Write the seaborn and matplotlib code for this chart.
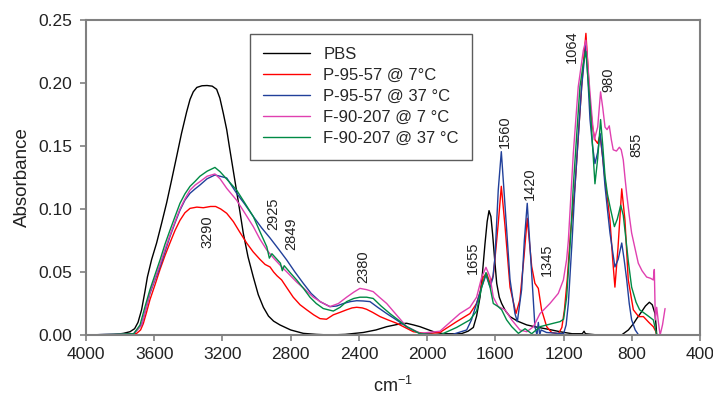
import matplotlib
matplotlib.use("Agg")
import matplotlib.pyplot as plt
import numpy as np
import pandas as pd
import seaborn as sns

# ---- values (wavenumber, absorbance) ----
pbs_wn = [4000, 3850, 3781, 3742, 3715, 3695, 3674, 3655, 3640, 3615, 3586, 3556, 3527, 3498,
          3468, 3440, 3410, 3390, 3371, 3350, 3320, 3290, 3260, 3234, 3215, 3195, 3175, 3160,
          3136, 3100, 3078, 3050, 3019, 2990, 2960, 2930, 2900, 2863, 2800, 2726, 2650, 2570,
          2480, 2374, 2300, 2237, 2160, 2120, 2080, 2042, 2000, 1950, 1900, 1800, 1760, 1729,
          1710, 1690, 1675, 1661, 1648, 1637, 1626, 1616, 1604, 1592, 1577, 1563, 1540, 1514,
          1470, 1416, 1370, 1319, 1270, 1221, 1150, 1090, 1080, 1072, 1000, 900, 860, 820,
          790, 771, 745, 720, 697, 680, 664, 658, 654]
pbs_abs = [0, 0, 0.0013, 0.0026, 0.005, 0.010, 0.020, 0.034, 0.046, 0.060, 0.073, 0.089, 0.105,
           0.123, 0.142, 0.160, 0.177, 0.187, 0.193, 0.1965, 0.1978, 0.198, 0.1975, 0.195,
           0.188, 0.176, 0.163, 0.150, 0.130, 0.100, 0.081, 0.062, 0.046, 0.032, 0.022, 0.015,
           0.011, 0.008, 0.004, 0.0013, 0.0005, 0, 0.0005, 0.002, 0.004, 0.0066, 0.0088,
           0.0093, 0.008, 0.0066, 0.0045, 0.002, 0.001, 0.001, 0.003, 0.006, 0.015, 0.030,
           0.050, 0.072, 0.090, 0.0987, 0.094, 0.080, 0.060, 0.041, 0.030, 0.025, 0.019, 0.0146,
           0.011, 0.008, 0.0066, 0.0053, 0.004, 0.0026, 0.001, 0.001, 0.003, 0.001, 0, 0, 0,
           0.004, 0.009, 0.013, 0.018, 0.023, 0.026, 0.024, 0.017, 0.008, 0]

p7_wn = [4000, 3800, 3703, 3680, 3664, 3645, 3625, 3595, 3566, 3537, 3508, 3478, 3449, 3420,
         3390, 3350, 3312, 3270, 3240, 3210, 3175, 3136, 3100, 3058, 3020, 2980, 2950, 2921,
         2900, 2880, 2853, 2820, 2785, 2745, 2706, 2665, 2628, 2590, 2550, 2510, 2472, 2440,
         2413, 2380, 2355, 2320, 2276, 2230, 2178, 2130, 2081, 2000, 1925, 1827, 1749, 1710,
         1690, 1671, 1651, 1631, 1612, 1597, 1583, 1565, 1543, 1514, 1479, 1456, 1432, 1413,
         1387, 1368, 1348, 1329, 1299, 1270, 1230, 1210, 1195, 1178, 1160, 1133, 1110, 1094,
         1080, 1069, 1058, 1045, 1030, 1016, 1000, 986, 970, 957, 943, 928, 912, 899, 881,
         859, 840, 821, 791, 760, 732, 700, 674, 660, 654]
p7_abs = [0, 0, 0.0013, 0.004, 0.009, 0.018, 0.028, 0.040, 0.052, 0.063, 0.073, 0.083, 0.091,
          0.097, 0.1005, 0.1015, 0.101, 0.102, 0.102, 0.100, 0.0966, 0.090, 0.082, 0.073,
          0.066, 0.060, 0.056, 0.054, 0.050, 0.047, 0.0437, 0.037, 0.030, 0.024, 0.020, 0.016,
          0.013, 0.0125, 0.016, 0.018, 0.020, 0.0215, 0.022, 0.0215, 0.0204, 0.018, 0.0146,
          0.012, 0.0093, 0.006, 0.0026, 0.001, 0.002, 0.0106, 0.017, 0.025, 0.034, 0.046,
          0.049, 0.041, 0.047, 0.068, 0.0886, 0.118, 0.086, 0.038, 0.017, 0.028, 0.062, 0.0926,
          0.0545, 0.041, 0.037, 0.020, 0.0066, 0.002, 0.001, 0.006, 0.020, 0.045, 0.080,
          0.118, 0.165, 0.197, 0.222, 0.2394, 0.215, 0.184, 0.165, 0.155, 0.152, 0.159, 0.140,
          0.123, 0.108, 0.091, 0.060, 0.038, 0.069, 0.116, 0.091, 0.044, 0.020, 0.0146, 0.0146,
          0.010, 0.0066, 0.003, 0]

p37_wn = [4000, 3720, 3674, 3650, 3625, 3595, 3566, 3537, 3508, 3478, 3449, 3420, 3390, 3360,
          3332, 3290, 3244, 3214, 3175, 3117, 3070, 3019, 2970, 2921, 2870, 2823, 2775, 2726,
          2680, 2628, 2570, 2530, 2491, 2450, 2413, 2375, 2335, 2290, 2237, 2180, 2120, 2042,
          1950, 1850, 1768, 1740, 1710, 1680, 1655, 1631, 1615, 1602, 1583, 1565, 1543, 1514,
          1485, 1471, 1446, 1430, 1413, 1387, 1368, 1356, 1348, 1340, 1332, 1300, 1200, 1185,
          1172, 1150, 1133, 1110, 1094, 1069, 1058, 1045, 1030, 1016, 1000, 986, 970, 957,
          943, 928, 912, 899, 880, 859, 845, 830, 815, 801, 780, 760, 654]
p37_abs = [0, 0.001, 0.008, 0.020, 0.033, 0.044, 0.054, 0.066, 0.078, 0.089, 0.099, 0.107,
           0.1125, 0.116, 0.119, 0.124, 0.127, 0.126, 0.1246, 0.1125, 0.104, 0.094, 0.085,
           0.077, 0.068, 0.0595, 0.050, 0.041, 0.033, 0.0265, 0.0225, 0.023, 0.025, 0.0265,
           0.0272, 0.027, 0.0265, 0.022, 0.017, 0.012, 0.0066, 0.0013, 0, 0.0005, 0.004, 0.012,
           0.025, 0.038, 0.0476, 0.038, 0.045, 0.062, 0.115, 0.1455, 0.102, 0.044, 0.017,
           0.0106, 0.036, 0.075, 0.1045, 0.049, 0.0066, 0.0, 0.01, 0.0, 0.004, 0.002, 0.001,
           0.008, 0.025, 0.075, 0.118, 0.165, 0.197, 0.2315, 0.205, 0.171, 0.150, 0.136, 0.145,
           0.160, 0.140, 0.118, 0.100, 0.081, 0.066, 0.054, 0.060, 0.073, 0.060, 0.044, 0.025,
           0.012, 0.004, 0, 0]

f7_wn = [4000, 3720, 3674, 3650, 3625, 3595, 3566, 3537, 3508, 3478, 3449, 3420, 3390, 3360,
         3332, 3290, 3244, 3214, 3175, 3117, 3070, 3019, 2980, 2940, 2900, 2863, 2815, 2765,
         2715, 2667, 2620, 2570, 2520, 2472, 2430, 2394, 2355, 2316, 2280, 2237, 2180, 2120,
         2042, 1925, 1808, 1749, 1710, 1680, 1655, 1631, 1612, 1583, 1543, 1504, 1456, 1416,
         1377, 1338, 1280, 1231, 1201, 1182, 1172, 1143, 1114, 1084, 1069, 1058, 1045, 1030,
         1020, 1000, 983, 970, 957, 945, 932, 920, 909, 890, 873, 862, 850, 840, 830, 815, 801,
         780, 762, 740, 713, 690, 674, 668, 662, 654, 644, 634, 620, 605]
f7_abs = [0, 0.001, 0.008, 0.020, 0.034, 0.045, 0.056, 0.068, 0.079, 0.090, 0.100, 0.108,
          0.115, 0.119, 0.1217, 0.126, 0.1278, 0.124, 0.1164, 0.107, 0.097, 0.086, 0.076,
          0.0675, 0.061, 0.0556, 0.049, 0.042, 0.036, 0.030, 0.026, 0.0225, 0.025, 0.030,
          0.034, 0.037, 0.036, 0.0344, 0.030, 0.025, 0.016, 0.0066, 0.0013, 0.003, 0.017, 0.022,
          0.030, 0.046, 0.0537, 0.046, 0.030, 0.0225, 0.020, 0.012, 0.004, 0.0026, 0.0066,
          0.017, 0.025, 0.033, 0.0437, 0.060, 0.075, 0.144, 0.197, 0.226, 0.234, 0.215, 0.192,
          0.168, 0.155, 0.165, 0.193, 0.180, 0.165, 0.163, 0.166, 0.155, 0.147, 0.146, 0.149,
          0.147, 0.139, 0.125, 0.112, 0.095, 0.081, 0.068, 0.057, 0.051, 0.046, 0.045, 0.0437,
          0.052, 0.012, 0.022, 0.010, 0.0, 0.008, 0.021]

f37_wn = [4000, 3720, 3683, 3655, 3625, 3595, 3566, 3537, 3508, 3478, 3449, 3420, 3390, 3360,
          3332, 3290, 3244, 3214, 3170, 3117, 3070, 3019, 2980, 2940, 2925, 2910, 2880, 2860,
          2849, 2838, 2800, 2765, 2725, 2687, 2650, 2609, 2550, 2510, 2472, 2430, 2394, 2355,
          2316, 2270, 2218, 2170, 2120, 2042, 1925, 1827, 1749, 1710, 1680, 1655, 1631, 1612,
          1583, 1563, 1534, 1504, 1465, 1426, 1387, 1338, 1260, 1221, 1200, 1182, 1160, 1143,
          1120, 1104, 1085, 1069, 1058, 1045, 1030, 1016, 1000, 983, 970, 957, 943, 928, 915,
          902, 885, 865, 850, 836, 820, 801, 775, 754, 713, 674, 660, 654]
f37_abs = [0, 0.001, 0.008, 0.022, 0.036, 0.048, 0.0595, 0.072, 0.083, 0.094, 0.1045, 0.112,
           0.118, 0.122, 0.126, 0.130, 0.133, 0.1296, 0.123, 0.115, 0.105, 0.094, 0.082, 0.070,
           0.061, 0.0645, 0.060, 0.057, 0.051, 0.055, 0.049, 0.0437, 0.037, 0.030, 0.025,
           0.021, 0.019, 0.022, 0.0265, 0.029, 0.030, 0.030, 0.029, 0.023, 0.017, 0.012, 0.0066,
           0.001, 0, 0.006, 0.012, 0.019, 0.038, 0.0495, 0.038, 0.025, 0.0225, 0.020, 0.012,
           0.0066, 0.0013, 0.005, 0.001, 0.0066, 0.0093, 0.0106, 0.0125, 0.030, 0.075, 0.118,
           0.165, 0.197, 0.215, 0.225, 0.205, 0.184, 0.150, 0.120, 0.140, 0.171, 0.150, 0.126,
           0.112, 0.102, 0.094, 0.086, 0.092, 0.103, 0.095, 0.078, 0.058, 0.038, 0.026, 0.020,
           0.016, 0.012, 0.004, 0]

series_names = ["PBS", "P-95-57 @ 7°C", "P-95-57 @ 37 °C", "F-90-207 @ 7 °C", "F-90-207 @ 37 °C"]
series_wn = [pbs_wn, p7_wn, p37_wn, f7_wn, f37_wn]
series_abs = [pbs_abs, p7_abs, p37_abs, f7_abs, f37_abs]

# band labels and where their centres sit (wavenumber, absorbance)
band_labels = ["3290", "2925", "2849", "2380", "1655", "1560", "1420", "1345", "1064", "980", "855"]
band_wn = [3285, 2902, 2794, 2374, 1729, 1544, 1397, 1296, 1152, 938, 771]
band_abs = [0.0817, 0.0966, 0.0807, 0.054, 0.061, 0.161, 0.120, 0.0595, 0.229, 0.2024, 0.151]

colors = {"PBS": "#000000", "P-95-57 @ 7°C": "#ff0000", "P-95-57 @ 37 °C": "#21409a",
          "F-90-207 @ 7 °C": "#e040b0", "F-90-207 @ 37 °C": "#008a45"}

frames = []
for name, wn, ab in zip(series_names, series_wn, series_abs):
    frames.append(pd.DataFrame({"wn": wn, "abs": ab, "sample": name}))
df = pd.concat(frames, ignore_index=True)

sns.set_theme(style="white")
plt.rcParams["font.family"] = ["Liberation Sans", "DejaVu Sans"]
plt.rcParams["mathtext.fontset"] = "custom"
plt.rcParams["mathtext.rm"] = "Liberation Sans"
plt.rcParams["mathtext.it"] = "Liberation Sans"

fig = plt.figure(figsize=(7.13, 4.04), dpi=100)
ax = fig.add_axes([0.1206, 0.1708, 0.8612, 0.7797])

sns.lineplot(data=df, x="wn", y="abs", hue="sample", hue_order=series_names, palette=colors,
             estimator=None, sort=True, linewidth=1.0, ax=ax)

ax.set_xlim(4000, 400)
ax.set_ylim(0, 0.25)
ax.set_xticks(np.arange(4000, 399, -400))
ax.set_yticks(np.arange(0, 0.251, 0.05))
ax.yaxis.set_major_formatter(matplotlib.ticker.FormatStrFormatter("%.2f"))
ax.tick_params(axis="both", direction="out", length=4, width=1.2, color="#808080",
               labelsize=12.5, labelcolor="#222222", bottom=True, left=True)
ax.tick_params(axis="y", pad=6)
ax.tick_params(axis="x", pad=5)
for sp in ax.spines.values():
    sp.set_color("#808080")
    sp.set_linewidth(1.5)

ax.set_xlabel(r"cm$^{-1}$", fontsize=13, color="#222222", labelpad=10)
ax.set_ylabel("Absorbance", fontsize=13.5, color="#222222", labelpad=5)

for txt, x, y in zip(band_labels, band_wn, band_abs):
    ax.text(x, y, txt, rotation=90, ha="center", va="center", fontsize=10.5, color="#222222")

leg = ax.legend(loc="upper left", bbox_to_anchor=(0.267, 0.956), borderaxespad=0, fontsize=12,
                frameon=True, fancybox=False, edgecolor="#333333", handlelength=2.8,
                handletextpad=0.8, labelspacing=0.36, borderpad=0.8, title=None)
leg.get_frame().set_linewidth(1.0)
for line in leg.get_lines():
    line.set_linewidth(1.0)

fig.savefig("out.png", dpi=100)
